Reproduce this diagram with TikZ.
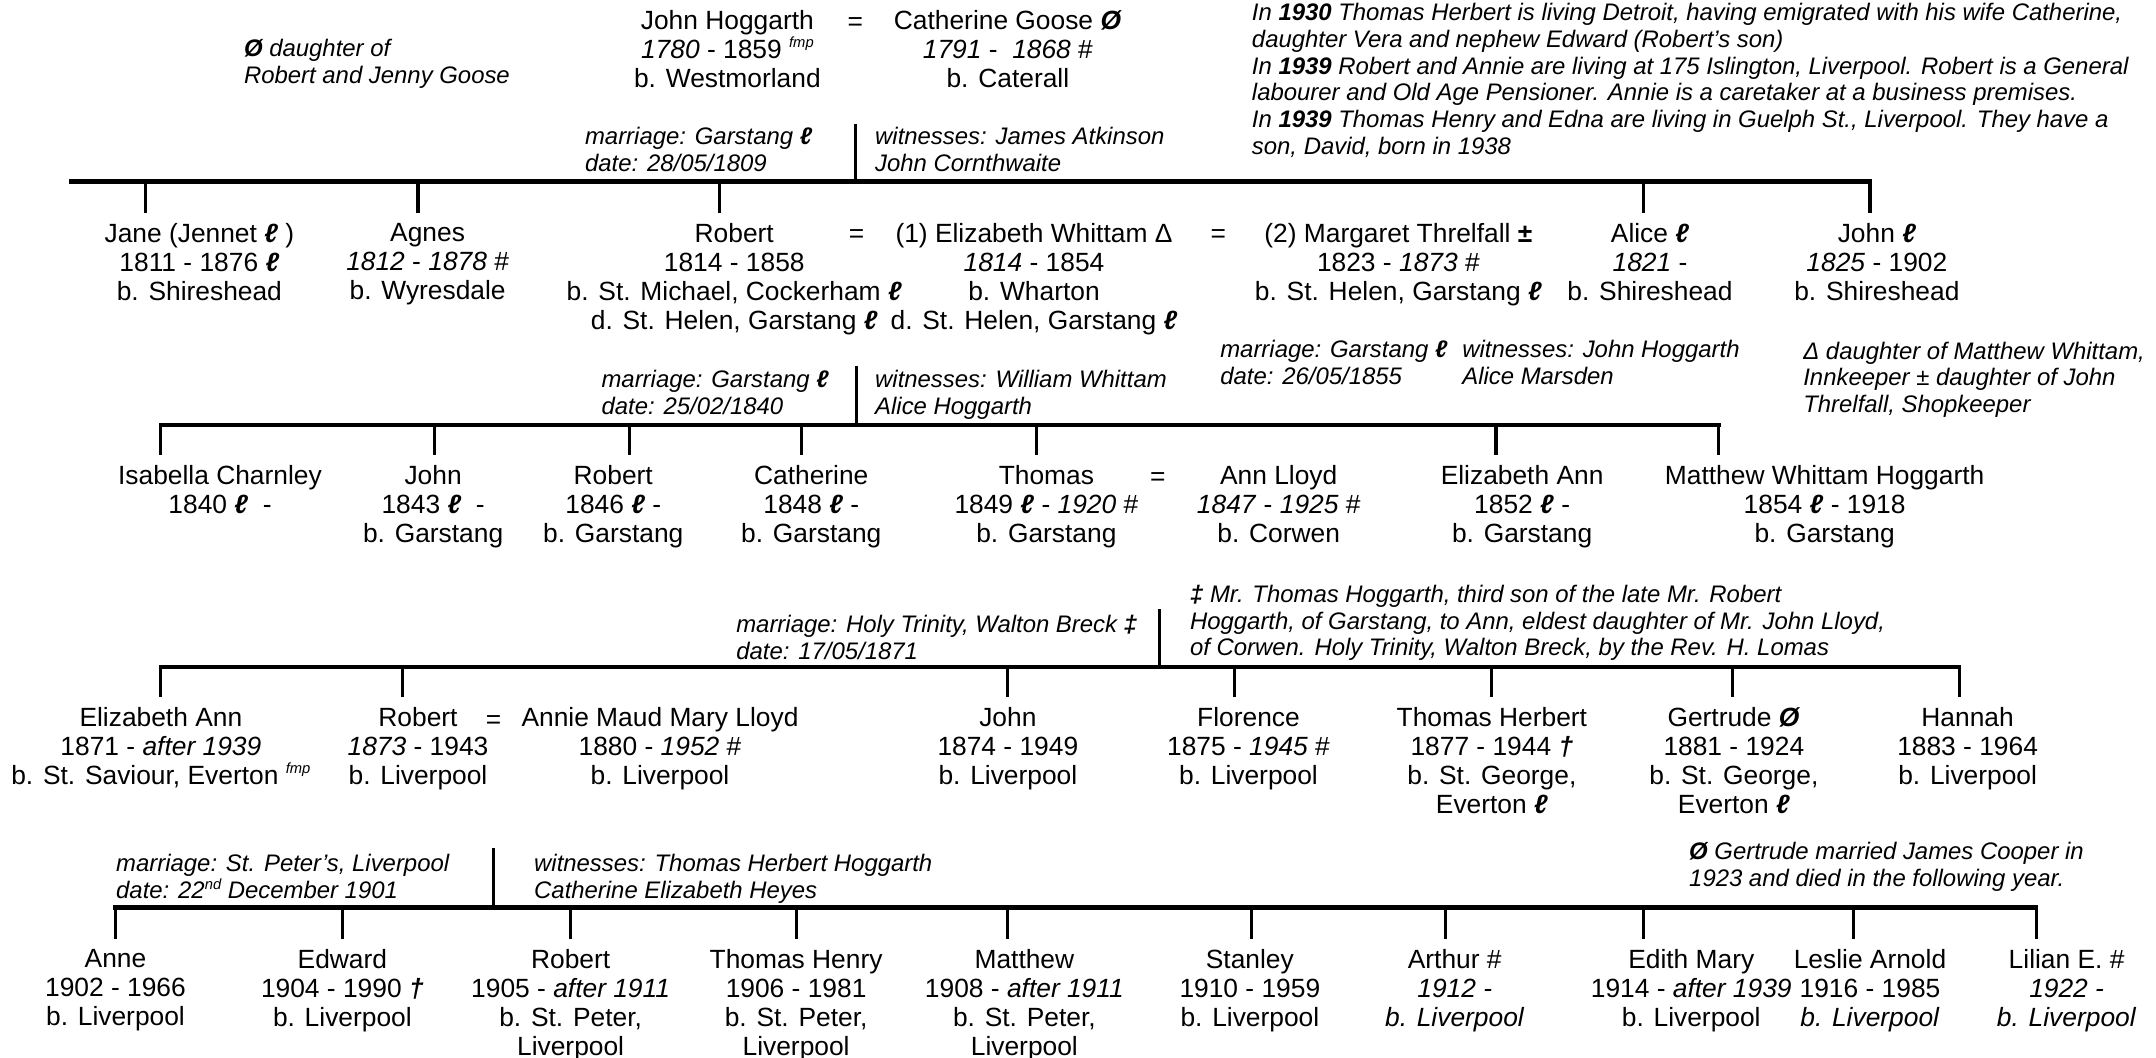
\documentclass[tikz,border=0pt]{standalone}
\usepackage{fontspec}
\setmainfont{Liberation Sans}
\usepackage{tikz}
\usetikzlibrary{positioning}

\newcommand{\lp}{\textbf{\textit{ℓ}}}
\newcommand{\Ostr}{\textbf{\textit{Ø}}}
\newcommand{\sups}[1]{\raisebox{0.4em}{\fontsize{4.2}{4.2}\selectfont\itshape #1}}
\newcommand{\fmp}{\sups{fmp}}
\newcommand{\dgr}{\textbf{\textit{†}}}
\newcommand{\ddgr}{\textbf{‡}}

\begin{document}
\begin{tikzpicture}
  [
    x=0.01375cm, y=-0.01375cm,
    Person/.style={align=center, inner sep=0pt, outer sep=3pt, anchor=north, font=\fontsize{7.5}{8.2}\selectfont},
    Eq/.style={inner sep=0pt, anchor=base, font=\fontsize{7.5}{8.2}\selectfont},
    Note/.style={align=left, inner sep=0pt, anchor=north west, font=\fontsize{6.8}{7.6}\selectfont\itshape},
    Bar/.style={line width=1.2pt, line cap=rect},
    Drop/.style={line width=0.9pt}
  ]
  \useasboundingbox (0,0) rectangle (1568,769);

  % Nodes
  \node[Note] (goose) at(177, 28) {\Ostr\ daughter of\\Robert and Jenny Goose};

  \node[Person] (johnH) at(529, 0) {John Hoggarth\\\textit{1780} - 1859 \fmp\\b. Westmorland};

  \node[Eq] (eq0) at(622, 22) {=};

  \node[Person] (cathG) at(733, 0) {Catherine Goose \Ostr\\\textit{1791} - \ \textit{1868} \#\\b. Caterall};

  \node[Note] (news) at(910, 2) {In \textbf{1930} Thomas Herbert is living Detroit, having emigrated with his wife Catherine,\\
    daughter Vera and nephew Edward (Robert’s son)\\
    In \textbf{1939} Robert and Annie are living at 175 Islington, Liverpool. Robert is a General\\
    labourer and Old Age Pensioner. Annie is a caretaker at a business premises.\\
    In \textbf{1939} Thomas Henry and Edna are living in Guelph St., Liverpool. They have a\\
    son, David, born in 1938};

  \node[Note] (mar1) at(425, 92) {marriage: Garstang \lp\\date: 28/05/1809};
  \node[Note] (wit1) at(636, 92) {witnesses: James Atkinson\\John Cornthwaite};

  % generation 1
  \node[Person] (jane) at(145, 155) {Jane (Jennet \lp\ )\\1811 - 1876 \lp\\b. Shireshead};

  \node[Person] (agnes) at(311, 155) {Agnes\\\textit{1812} - \textit{1878} \#\\b. Wyresdale};

  \node[Person] (robert) at(534, 155) {Robert\\1814 - 1858\\b. St. Michael, Cockerham \lp\\d. St. Helen, Garstang \lp};

  \node[Eq] (eq1) at(623, 176) {=};

  \node[Person] (elizW) at(752, 155) {(1) Elizabeth Whittam Δ\\\textit{1814} - 1854\\b. Wharton\\d. St. Helen, Garstang \lp};

  \node[Eq] (eq2) at(886, 176) {=};

  \node[Person] (margT) at(1017, 155) {(2) Margaret Threlfall \textbf{±}\\1823 - \textit{1873} \#\\b. St. Helen, Garstang \lp};

  \node[Person] (alice) at(1200, 155) {Alice \lp\\\textit{1821} -\\b. Shireshead};

  \node[Person] (johnR) at(1365, 155) {John \lp\\\textit{1825} - 1902\\b. Shireshead};

  \node[Note] (mar2) at(437, 269) {marriage: Garstang \lp\\date: 25/02/1840};
  \node[Note] (wit2) at(636, 269) {witnesses: William Whittam\\Alice Hoggarth};

  \node[Note] (mar3) at(887, 247) {marriage: Garstang \lp\\date: 26/05/1855};
  \node[Note] (wit3) at(1063, 247) {witnesses: John Hoggarth\\Alice Marsden};

  \node[Note] (whittam) at(1311, 248) {Δ daughter of Matthew Whittam,\\Innkeeper ± daughter of John\\Threlfall, Shopkeeper};

  % generation 2
  \node[Person] (isabella) at(160, 331) {Isabella Charnley\\1840 \lp\ \ -};

  \node[Person] (johnG) at(315, 331) {John\\1843 \lp\ \ -\\b. Garstang};

  \node[Person] (robertG) at(446, 331) {Robert\\1846 \lp\ -\\b. Garstang};

  \node[Person] (catherine) at(590, 331) {Catherine\\1848 \lp\ -\\b. Garstang};

  \node[Person] (thomas) at(761, 331) {Thomas\\1849 \lp\ - \textit{1920} \#\\b. Garstang};

  \node[Eq] (eq3) at(842, 353) {=};

  \node[Person] (annL) at(930, 331) {Ann Lloyd\\\textit{1847} - \textit{1925} \#\\b. Corwen};

  \node[Person] (elizA) at(1107, 331) {Elizabeth Ann\\1852 \lp\ -\\b. Garstang};

  \node[Person] (matthew) at(1327, 331) {Matthew Whittam Hoggarth\\1854 \lp\ - 1918\\b. Garstang};

  \node[Note] (mar4) at(535, 447) {marriage: Holy Trinity, Walton Breck \ddgr\\date: 17/05/1871};

  \node[Note] (press) at(865, 425) {\ddgr\ Mr. Thomas Hoggarth, third son of the late Mr. Robert\\
    Hoggarth, of Garstang, to Ann, eldest daughter of Mr. John Lloyd,\\
    of Corwen. Holy Trinity, Walton Breck, by the Rev. H. Lomas};

  % generation 3
  \node[Person] (elizL) at(117, 507) {Elizabeth Ann\\1871 - \textit{after 1939}\\b. St. Saviour, Everton \fmp};

  \node[Person] (robertL) at(304, 507) {Robert\\\textit{1873} - 1943\\b. Liverpool};

  \node[Eq] (eq4) at(359, 530) {=};

  \node[Person] (annie) at(480, 507) {Annie Maud Mary Lloyd\\1880 - \textit{1952} \#\\b. Liverpool};

  \node[Person] (johnL) at(733, 507) {John\\1874 - 1949\\b. Liverpool};

  \node[Person] (florence) at(908, 507) {Florence\\1875 - \textit{1945} \#\\b. Liverpool};

  \node[Person] (thomasH) at(1085, 507) {Thomas Herbert\\1877 - 1944 \dgr\\b. St. George,\\Everton \lp};

  \node[Person] (gertrude) at(1261, 507) {Gertrude \Ostr\\1881 - 1924\\b. St. George,\\Everton \lp};

  \node[Person] (hannah) at(1431, 507) {Hannah\\1883 - 1964\\b. Liverpool};

  \node[Note] (mar5) at(84, 621) {marriage: St. Peter’s, Liverpool\\date: 22\sups{nd} December 1901};
  \node[Note] (wit5) at(388, 621) {witnesses: Thomas Herbert Hoggarth\\Catherine Elizabeth Heyes};

  \node[Note] (cooper) at(1228, 612) {\Ostr\ Gertrude married James Cooper in\\1923 and died in the following year.};

  % generation 4
  \node[Person] (anne) at(84, 683) {Anne\\1902 - 1966\\b. Liverpool};

  \node[Person] (edward) at(249, 683) {Edward\\1904 - 1990 \dgr\\b. Liverpool};

  \node[Person] (robertP) at(415, 683) {Robert\\1905 - \textit{after 1911}\\b. St. Peter,\\Liverpool};

  \node[Person] (thomasP) at(579, 683) {Thomas Henry\\1906 - 1981\\b. St. Peter,\\Liverpool};

  \node[Person] (matthewP) at(745, 683) {Matthew\\1908 - \textit{after 1911}\\b. St. Peter,\\Liverpool};

  \node[Person] (stanley) at(909, 683) {Stanley\\1910 - 1959\\b. Liverpool};

  \node[Person] (arthur) at(1058, 683) {Arthur \#\\\textit{1912 -}\\\textit{b. Liverpool}};

  \node[Person] (edith) at(1230, 683) {Edith Mary\\1914 - \textit{after 1939}\\b. Liverpool};

  \node[Person] (leslie) at(1360, 683) {Leslie Arnold\\1916 - 1985\\\textit{b. Liverpool}};

  \node[Person] (lilian) at(1503, 683) {Lilian E. \#\\\textit{1922 -}\\\textit{b. Liverpool}};

  % Coordinates on the bars
  \coordinate (b1l) at(52, 132);
  \coordinate (m1) at(622, 90);
  \coordinate (d1a) at(106, 132);
  \coordinate (d1b) at(304, 132);
  \coordinate (d1c) at(523, 132);
  \coordinate (d1d) at(1195, 132);
  \coordinate (d1e) at(1360, 132);

  \coordinate (m2) at(623, 266);
  \coordinate (d2a) at(117, 309);
  \coordinate (d2b) at(316, 309);
  \coordinate (d2c) at(458, 309);
  \coordinate (d2d) at(583, 309);
  \coordinate (d2e) at(754, 309);
  \coordinate (d2f) at(1088, 309);
  \coordinate (d2g) at(1250, 309);

  \coordinate (m3) at(843, 443);
  \coordinate (d3a) at(117, 485);
  \coordinate (d3b) at(293, 485);
  \coordinate (d3c) at(733, 485);
  \coordinate (d3d) at(898, 485);
  \coordinate (d3e) at(1085, 485);
  \coordinate (d3f) at(1260, 485);
  \coordinate (d3g) at(1425, 485);

  \coordinate (m4) at(359, 617);
  \coordinate (d4a) at(84, 660);
  \coordinate (d4b) at(249, 660);
  \coordinate (d4c) at(415, 660);
  \coordinate (d4d) at(579, 660);
  \coordinate (d4e) at(733, 660);
  \coordinate (d4f) at(910, 660);
  \coordinate (d4g) at(1051, 660);
  \coordinate (d4h) at(1195, 660);
  \coordinate (d4i) at(1348, 660);
  \coordinate (d4j) at(1481, 660);

  % Lines
  \draw[Bar] (b1l) -- (d1e);
  \draw[Drop] (m1) -- (m1 |- b1l);
  \draw[Drop] (d1a) -- (d1a |- jane.north);
  \draw[Drop] (d1b) -- (d1b |- agnes.north);
  \draw[Drop] (d1c) -- (d1c |- robert.north);
  \draw[Drop] (d1d) -- (d1d |- alice.north);
  \draw[Drop] (d1e) -- (d1e |- johnR.north);

  \draw[Bar] (d2a) -- (d2g);
  \draw[Drop] (m2) -- (m2 |- d2a);
  \draw[Drop] (d2a) -- (d2a |- isabella.north);
  \draw[Drop] (d2b) -- (d2b |- johnG.north);
  \draw[Drop] (d2c) -- (d2c |- robertG.north);
  \draw[Drop] (d2d) -- (d2d |- catherine.north);
  \draw[Drop] (d2e) -- (d2e |- thomas.north);
  \draw[Drop] (d2f) -- (d2f |- elizA.north);
  \draw[Drop] (d2g) -- (d2g |- matthew.north);

  \draw[Bar] (d3a) -- (d3g);
  \draw[Drop] (m3) -- (m3 |- d3a);
  \draw[Drop] (d3a) -- (d3a |- elizL.north);
  \draw[Drop] (d3b) -- (d3b |- robertL.north);
  \draw[Drop] (d3c) -- (d3c |- johnL.north);
  \draw[Drop] (d3d) -- (d3d |- florence.north);
  \draw[Drop] (d3e) -- (d3e |- thomasH.north);
  \draw[Drop] (d3f) -- (d3f |- gertrude.north);
  \draw[Drop] (d3g) -- (d3g |- hannah.north);

  \draw[Bar] (d4a) -- (d4j);
  \draw[Drop] (m4) -- (m4 |- d4a);
  \draw[Drop] (d4a) -- (d4a |- anne.north);
  \draw[Drop] (d4b) -- (d4b |- edward.north);
  \draw[Drop] (d4c) -- (d4c |- robertP.north);
  \draw[Drop] (d4d) -- (d4d |- thomasP.north);
  \draw[Drop] (d4e) -- (d4e |- matthewP.north);
  \draw[Drop] (d4f) -- (d4f |- stanley.north);
  \draw[Drop] (d4g) -- (d4g |- arthur.north);
  \draw[Drop] (d4h) -- (d4h |- edith.north);
  \draw[Drop] (d4i) -- (d4i |- leslie.north);
  \draw[Drop] (d4j) -- (d4j |- lilian.north);

\end{tikzpicture}
\end{document}
